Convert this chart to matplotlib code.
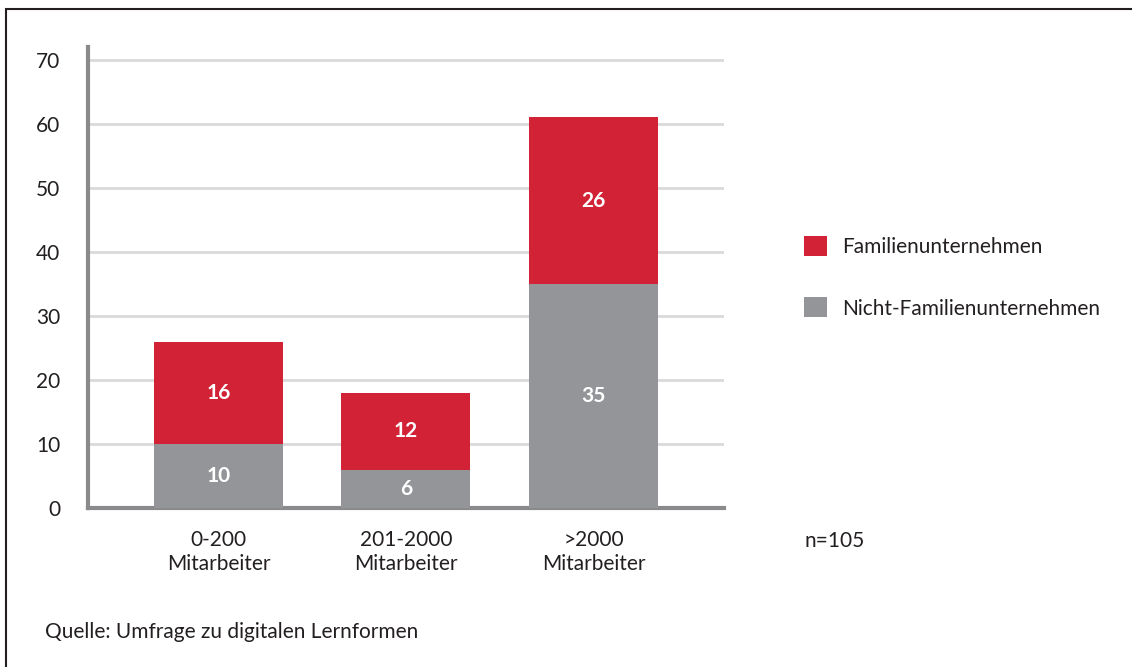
import matplotlib
matplotlib.use("Agg")
import matplotlib.pyplot as plt
from matplotlib.patches import Rectangle, Patch
import numpy as np

categories = ["0-200\nMitarbeiter", "201-2000\nMitarbeiter", ">2000\nMitarbeiter"]
nicht_familie = [10, 6, 35]
familie = [16, 12, 26]
series_labels = ["Familienunternehmen", "Nicht-Familienunternehmen"]
yticks = [0, 10, 20, 30, 40, 50, 60, 70]

RED = "#d22236"
GRAY = "#939598"
SPINE = "#8a8a8d"
GRID = "#d9d9d9"
TXT = "#231f20"
FS = 15

plt.rcParams['font.family'] = ['Lato', 'DejaVu Sans']

fig = plt.figure(figsize=(11.32, 6.67), dpi=100)
ax = fig.add_axes([88/1132, 1-508/667, (724-88)/1132, 461/667])

x = np.arange(len(categories))
w = 0.688
ax.bar(x, nicht_familie, width=w, color=GRAY, zorder=3)
ax.bar(x, familie, width=w, bottom=nicht_familie, color=RED, zorder=3)

for xi, n, f in zip(x, nicht_familie, familie):
    ax.text(xi, n/2, str(n), ha='center', va='center', color='white', fontsize=FS, fontweight='bold', zorder=4)
    ax.text(xi, n + f/2, str(f), ha='center', va='center', color='white', fontsize=FS, fontweight='bold', zorder=4)

ax.set_xlim(-0.696, 2.696)
ax.set_ylim(0, 72)
ax.set_yticks(yticks)
ax.set_yticklabels([str(v) for v in yticks], fontsize=FS, color=TXT)
ax.set_xticks(x)
ax.set_xticklabels(categories, fontsize=FS, color=TXT, linespacing=1.25)
ax.tick_params(axis='both', length=0)
ax.tick_params(axis='y', pad=20)
ax.tick_params(axis='x', pad=16)
for v in yticks[1:]:
    ax.axhline(v, color=GRID, lw=2, zorder=1)
for s in ['top', 'right']:
    ax.spines[s].set_visible(False)
for s in ['left', 'bottom']:
    ax.spines[s].set_color(SPINE)
    ax.spines[s].set_linewidth(3)

handles = [Patch(facecolor=RED), Patch(facecolor=GRAY)]
fig.legend(handles, series_labels, loc='upper left', bbox_to_anchor=(785/1132, 1-217/667),
           frameon=False, fontsize=FS, handlelength=1.1, handleheight=1.1,
           labelspacing=1.95, handletextpad=0.72, labelcolor=TXT)

fig.text(805/1132, 1-541/667, "n=105", fontsize=FS, color=TXT, va='center', ha='left')
fig.text(45/1132, 1-632/667, "Quelle: Umfrage zu digitalen Lernformen", fontsize=FS, color=TXT, va='center', ha='left')

fig.add_artist(Rectangle((6/1132, -0.05), 1.2, 1-9/667+0.05, transform=fig.transFigure,
                         fill=False, edgecolor='#231f20', lw=1.5))

fig.savefig("out.png", dpi=100)
